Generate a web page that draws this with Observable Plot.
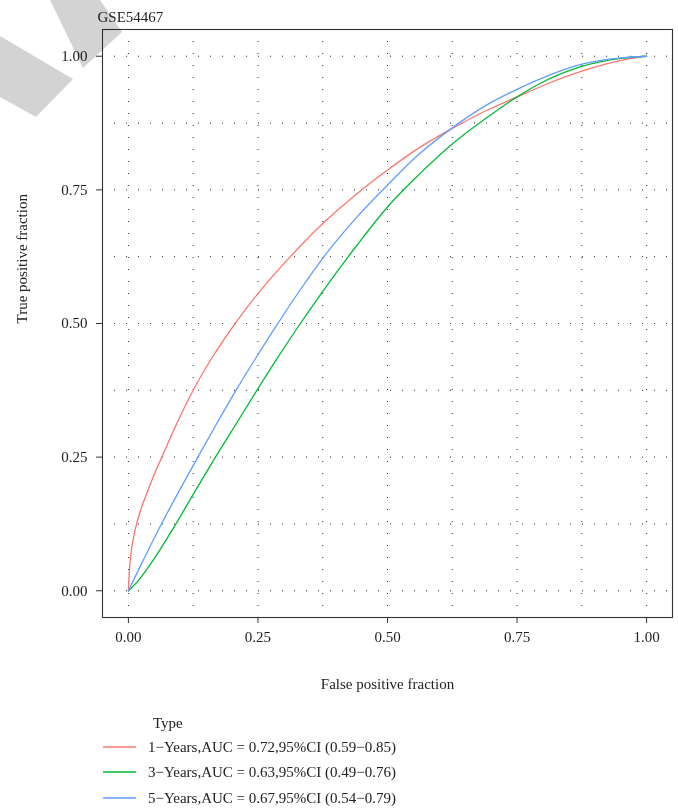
<!DOCTYPE html>
<html>
<head>
<meta charset="utf-8">
<script src="https://cdn.jsdelivr.net/npm/d3@7"></script>
<script src="https://cdn.jsdelivr.net/npm/@observablehq/plot@0.6"></script>
<style>
  html, body { margin: 0; padding: 0; background: #fff; }
  #wrap { position: relative; width: 678px; height: 811px; font-family: "Liberation Serif", "DejaVu Serif", serif; color: #222; }
  .lg-row { position: absolute; left: 0; height: 20px; width: 678px; }
  .lg-row svg { position: absolute; left: 103px; top: 0; }
  .lg-row span { position: absolute; left: 148px; top: 0; line-height: 20px; white-space: nowrap; }
  #wm { position: absolute; left: 0; top: 0; mix-blend-mode: multiply; pointer-events: none; }
</style>
</head>
<body>
<div id="wrap"></div>
<script>
// ---- data ----
const chartTitle = "GSE54467";
const xLabel = "False positive fraction";
const yLabel = "True positive fraction";
const legendTitle = "Type";
const seriesNames = [
  "1\u2212Years,AUC = 0.72,95%CI (0.59\u22120.85)",
  "3\u2212Years,AUC = 0.63,95%CI (0.49\u22120.76)",
  "5\u2212Years,AUC = 0.67,95%CI (0.54\u22120.79)"
];
const seriesColors = ["#F8766D", "#00BA38", "#619CFF"];

// 1-year ROC curve
const fpr1 = [0, 0.002, 0.005, 0.01, 0.015, 0.025, 0.037, 0.05, 0.064, 0.093, 0.125, 0.16, 0.2, 0.25, 0.3125, 0.375, 0.44, 0.5, 0.56, 0.625, 0.69, 0.75, 0.81, 0.875, 0.94, 1];
const tpr1 = [0, 0.04, 0.07, 0.1, 0.122, 0.155, 0.186, 0.218, 0.249, 0.312, 0.375, 0.434, 0.492, 0.556, 0.625, 0.687, 0.742, 0.787, 0.828, 0.865, 0.898, 0.924, 0.949, 0.972, 0.99, 1];

// 3-year ROC curve
const fpr3 = [0, 0.02, 0.047, 0.091, 0.129, 0.168, 0.208, 0.248, 0.288, 0.327, 0.375, 0.44, 0.5, 0.56, 0.625, 0.69, 0.75, 0.796, 0.875, 0.951, 1];
const tpr3 = [0, 0.02, 0.056, 0.124, 0.187, 0.25, 0.3125, 0.375, 0.436, 0.493, 0.56, 0.645, 0.718, 0.778, 0.836, 0.884, 0.924, 0.95, 0.981, 0.996, 1];

// 5-year ROC curve
const fpr5 = [0, 0.02, 0.06, 0.097, 0.134, 0.17, 0.207, 0.245, 0.285, 0.333, 0.375, 0.44, 0.5, 0.56, 0.625, 0.69, 0.75, 0.796, 0.875, 0.951, 1];
const tpr5 = [0, 0.04, 0.118, 0.185, 0.25, 0.312, 0.374, 0.434, 0.495, 0.565, 0.622, 0.698, 0.759, 0.816, 0.866, 0.908, 0.938, 0.958, 0.985, 0.997, 1];

const tickValues = [0, 0.25, 0.5, 0.75, 1];
const gridValues = [0, 0.125, 0.25, 0.375, 0.5, 0.625, 0.75, 0.875, 1];

// ---- build rows ----
const rows = [];
[[fpr1, tpr1], [fpr3, tpr3], [fpr5, tpr5]].forEach(([fx, ty], i) => {
  fx.forEach((f, j) => rows.push({series: seriesNames[i], fpr: f, tpr: ty[j]}));
});

const fmt = d3.format(".2f");
const dotted = {stroke: "#000", strokeDasharray: "1,11", strokeWidth: 1, strokeOpacity: 0.85};

const chart = Plot.plot({
  width: 678,
  height: 700,
  marginLeft: 102,
  marginRight: 6,
  marginTop: 29,
  marginBottom: 83,
  style: {fontFamily: "'Liberation Serif', 'DejaVu Serif', serif", fontSize: "15px", color: "#222", background: "transparent", overflow: "visible"},
  x: {domain: [-0.05, 1.05]},
  y: {domain: [-0.05, 1.05]},
  color: {domain: seriesNames, range: seriesColors},
  marks: [
    Plot.ruleX(gridValues, dotted),
    Plot.ruleY(gridValues, dotted),
    Plot.line(rows, {x: "fpr", y: "tpr", z: "series", stroke: "series", curve: "monotone-x", strokeWidth: 1.3}),
    Plot.frame({stroke: "#333", strokeWidth: 1.1}),
    Plot.axisX(tickValues, {tickFormat: fmt, tickSize: 6, tickPadding: 8, label: null, stroke: "#333", fill: "#222", fontSize: 15}),
    Plot.axisY(tickValues, {tickFormat: fmt, tickSize: 6, tickPadding: 9, label: null, stroke: "#333", fill: "#222", fontSize: 15}),
    Plot.text([xLabel], {frameAnchor: "bottom", lineAnchor: "middle", dy: 67, fontSize: 15, fill: "#222"}),
    Plot.text([yLabel], {frameAnchor: "left", rotate: -90, dx: -80, fontSize: 15, fill: "#222"}),
    Plot.text([chartTitle], {frameAnchor: "top-left", textAnchor: "start", lineAnchor: "middle", dx: -5, dy: -12, fontSize: 15, fill: "#222"})
  ]
});

const wrap = document.getElementById("wrap");
wrap.appendChild(chart);

// legend
const lt = document.createElement("div");
lt.textContent = legendTitle;
lt.style.cssText = "position:absolute;left:153px;top:713px;font-size:15px;line-height:20px;";
wrap.appendChild(lt);
const rowTops = [737, 762, 788];
seriesNames.forEach((name, i) => {
  const r = document.createElement("div");
  r.className = "lg-row";
  r.style.top = rowTops[i] + "px";
  r.style.fontSize = "15px";
  const s = d3.create("svg").attr("width", 34).attr("height", 20);
  s.append("line").attr("x1", 0).attr("x2", 33).attr("y1", 10).attr("y2", 10)
    .attr("stroke", seriesColors[i]).attr("stroke-width", 1.4);
  r.appendChild(s.node());
  const t = document.createElement("span");
  t.textContent = name;
  r.appendChild(t);
  wrap.appendChild(r);
});

// decorative watermark (publisher artefact in the reference)
const wm = d3.create("svg").attr("id", "wm").attr("width", 130).attr("height", 125);
wm.append("polygon").attr("points", "50,0 100,0 122,32 83,68").attr("fill", "#d3d3d3");
wm.append("polygon").attr("points", "0,36 73,79 36,117 0,97").attr("fill", "#d3d3d3");
wrap.appendChild(wm.node());
</script>
</body>
</html>
